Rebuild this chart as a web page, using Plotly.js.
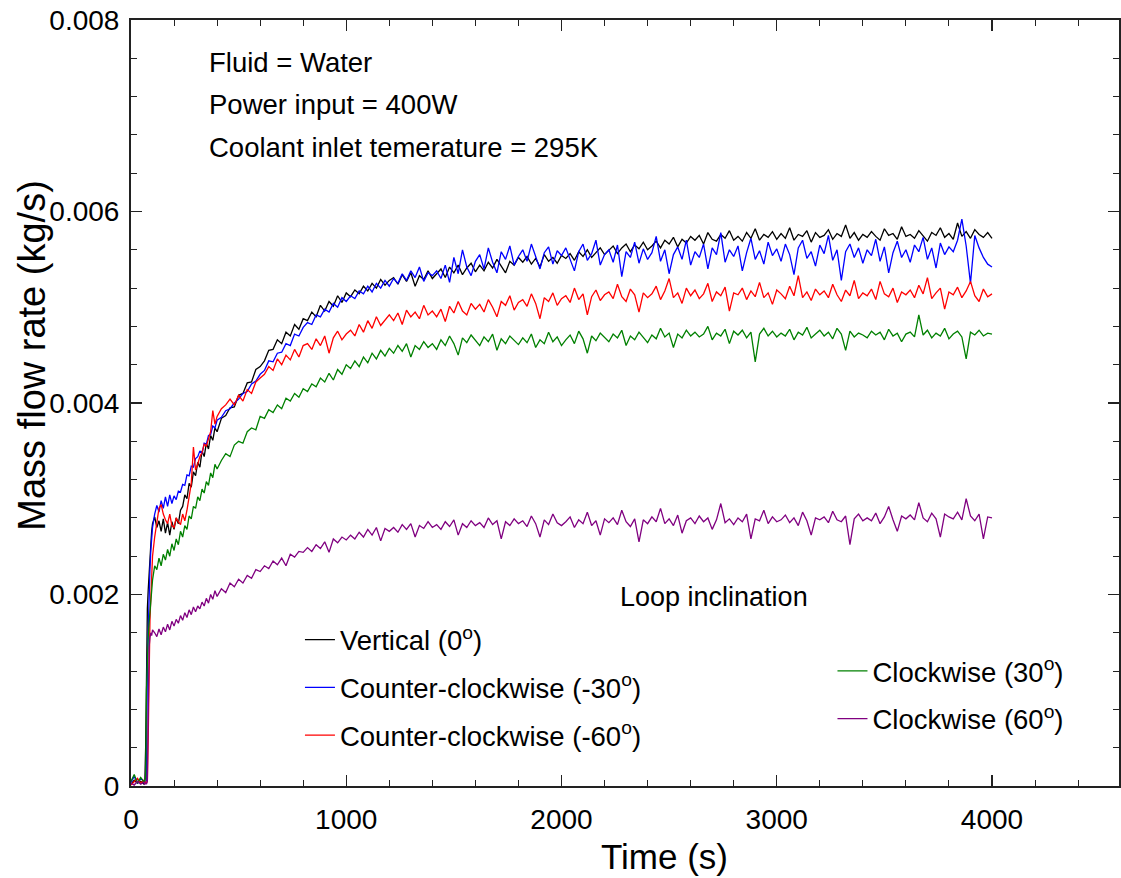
<!DOCTYPE html>
<html>
<head>
<meta charset="utf-8">
<script src="https://cdn.plot.ly/plotly-3.0.1.min.js"></script>
<style>html,body{margin:0;padding:0;background:#fff;}#chart{width:1121px;height:878px;}</style>
</head>
<body>
<div id="chart"></div>
<script>
// Time in seconds
const time = [0,15,30,45,60,64,68,72,76,80,84,88,92,96,100,
110,120,130,140,150,160,170,180,190,200,
210,220,230,240,250,260,270,280,290,300,
310,320,330,340,350,360,370,380,390,400,
420,440,460,480,500,520,540,560,580,600,
620,640,660,680,700,720,740,760,780,800,
820,840,860,880,900,920,940,960,980,1000,
1020,1040,1060,1080,1100,1120,1140,1160,1180,1200,
1220,1240,1260,1280,1300,1320,1340,1360,1380,1400,
1420,1440,1460,1480,1500,1520,1540,1560,1580,1600,
1620,1640,1660,1680,1700,1720,1740,1760,1780,1800,
1820,1840,1860,1880,1900,1920,1940,1960,1980,2000,
2020,2040,2060,2080,2100,2120,2140,2160,2180,2200,
2220,2240,2260,2280,2300,2320,2340,2360,2380,2400,
2420,2440,2460,2480,2500,2520,2540,2560,2580,2600,
2620,2640,2660,2680,2700,2720,2740,2760,2780,2800,
2820,2840,2860,2880,2900,2920,2940,2960,2980,3000,
3020,3040,3060,3080,3100,3120,3140,3160,3180,3200,
3220,3240,3260,3280,3300,3320,3340,3360,3380,3400,
3420,3440,3460,3480,3500,3520,3540,3560,3580,3600,
3620,3640,3660,3680,3700,3720,3740,3760,3780,3800,
3820,3840,3860,3880,3900,3920,3940,3960,3980,4000];

// Mass flow rate values in g/s (converted to kg/s for plotting)
const vertical0 = [0.02,0.06,0.03,0.05,0.02,0.03,0.40,1.45,1.85,2.05,2.25,2.40,2.52,2.66,2.74,
2.81,2.70,2.77,2.66,2.79,2.64,2.75,2.62,2.76,2.68,
2.80,2.74,2.88,2.92,3.04,3.00,3.16,3.12,3.28,3.24,
3.38,3.33,3.50,3.44,3.58,3.52,3.66,3.61,3.74,3.70,
3.84,3.87,3.95,3.96,4.08,4.10,4.21,4.22,4.35,4.38,
4.44,4.55,4.56,4.66,4.62,4.74,4.70,4.82,4.77,4.88,
4.86,4.95,4.90,5.02,4.96,5.06,5.01,5.12,5.05,5.15,
5.11,5.18,5.14,5.22,5.17,5.25,5.20,5.29,5.23,5.28,
5.31,5.24,5.34,5.27,5.36,5.22,5.33,5.29,5.38,5.30,
5.35,5.40,5.31,5.42,5.36,5.44,5.34,5.41,5.46,5.37,
5.44,5.38,5.47,5.41,5.50,5.43,5.36,5.48,5.44,5.52,
5.47,5.53,5.45,5.51,5.42,5.55,5.48,5.52,5.46,5.54,
5.51,5.56,5.49,5.58,5.53,5.60,5.52,5.57,5.62,5.55,
5.59,5.64,5.56,5.62,5.66,5.58,5.65,5.61,5.68,5.60,
5.64,5.69,5.62,5.70,5.66,5.73,5.63,5.71,5.67,5.74,
5.70,5.75,5.66,5.78,5.71,5.69,5.76,5.72,5.80,5.70,
5.74,5.69,5.78,5.72,5.82,5.70,5.76,5.73,5.79,5.71,
5.77,5.72,5.83,5.70,5.76,5.74,5.80,5.68,5.78,5.73,
5.75,5.81,5.71,5.77,5.74,5.86,5.72,5.78,5.70,5.76,
5.73,5.79,5.74,5.70,5.82,5.75,5.77,5.71,5.84,5.74,
5.76,5.72,5.80,5.74,5.69,5.78,5.75,5.83,5.73,5.77,
5.71,5.88,5.74,5.79,5.72,5.81,5.76,5.73,5.78,5.72];

const ccw30 = [0.04,0.10,0.03,0.08,0.05,0.02,0.04,0.06,1.30,1.72,2.02,2.26,2.46,2.60,2.70,
2.84,2.93,2.86,2.98,2.90,3.02,2.92,3.04,2.95,3.03,
2.99,3.08,3.07,3.15,3.14,3.25,3.24,3.34,3.33,3.42,
3.44,3.50,3.47,3.58,3.57,3.66,3.67,3.76,3.74,3.82,
3.85,3.92,3.94,4.00,4.04,4.10,4.12,4.20,4.23,4.30,
4.34,4.44,4.43,4.52,4.53,4.62,4.60,4.72,4.70,4.79,
4.84,4.82,4.92,4.90,4.98,4.95,5.04,5.00,5.10,5.06,
5.12,5.09,5.17,5.14,5.22,5.16,5.25,5.20,5.28,5.22,
5.30,5.25,5.35,5.28,5.38,5.31,5.42,5.27,5.36,5.33,
5.38,5.30,5.44,5.26,5.52,5.35,5.60,5.42,5.33,5.48,
5.55,5.40,5.62,5.47,5.36,5.58,5.50,5.64,5.44,5.53,
5.60,5.48,5.66,5.52,5.40,5.57,5.63,5.45,5.59,5.54,
5.62,5.50,5.38,5.58,5.66,5.49,5.56,5.70,5.44,5.55,
5.60,5.47,5.65,5.32,5.58,5.52,5.68,5.46,5.61,5.50,
5.57,5.74,5.48,5.60,5.35,5.55,5.63,5.50,5.70,5.44,
5.58,5.52,5.66,5.40,5.62,5.55,5.78,5.47,5.60,5.53,
5.64,5.38,5.57,5.72,5.50,5.59,5.45,5.68,5.54,5.61,
5.48,5.66,5.55,5.34,5.62,5.70,5.51,5.58,5.43,5.65,
5.56,5.75,5.49,5.60,5.28,5.58,5.66,5.52,5.62,5.46,
5.60,5.54,5.71,5.48,5.63,5.36,5.57,5.69,5.52,5.60,
5.47,5.65,5.58,5.73,5.50,5.62,5.41,5.67,5.55,5.63,
5.58,5.70,5.92,5.64,5.25,5.75,5.62,5.52,5.45,5.42];

const ccw60 = [0.01,0.04,0.08,0.03,0.06,0.02,0.04,0.03,0.05,0.50,1.45,1.72,1.96,2.20,2.40,
2.60,2.76,2.90,2.94,2.84,2.78,2.74,2.84,2.72,2.70,
2.80,2.76,2.73,2.84,2.77,2.88,3.02,3.16,3.54,3.30,
3.36,3.44,3.48,3.57,3.55,3.64,3.70,3.92,3.78,3.86,
3.94,3.98,4.04,3.98,4.08,4.02,4.14,4.10,4.22,4.26,
4.30,4.38,4.34,4.46,4.40,4.50,4.45,4.56,4.48,4.60,
4.62,4.56,4.67,4.60,4.70,4.52,4.68,4.75,4.66,4.72,
4.76,4.70,4.82,4.74,4.86,4.78,4.90,4.81,4.87,4.92,
4.86,4.94,4.82,4.97,4.90,4.95,4.88,5.02,4.92,4.96,
4.90,4.98,4.85,5.01,4.94,5.06,4.96,4.92,5.04,4.98,
5.03,4.95,5.08,5.00,4.90,5.06,5.02,5.12,4.97,5.05,
5.08,5.01,5.14,5.04,4.88,5.10,5.06,5.15,5.02,5.09,
5.12,5.05,5.20,5.08,5.14,4.92,5.11,5.18,5.07,5.13,
5.16,5.09,5.24,5.11,5.06,5.19,5.13,4.95,5.15,5.10,
5.14,5.22,5.08,5.17,5.30,5.10,5.15,5.04,5.20,5.12,
5.18,5.09,5.14,5.25,5.06,5.16,5.12,5.21,4.96,5.15,
5.13,5.20,5.08,5.17,5.11,5.26,5.10,5.15,5.03,5.18,
5.14,5.09,5.22,5.12,5.33,5.10,5.16,5.07,5.19,5.13,
5.17,5.10,5.24,5.13,5.06,5.18,5.12,5.28,5.09,5.15,
5.12,5.19,5.08,5.27,5.14,5.11,5.20,5.05,5.16,5.13,
5.18,5.10,5.23,5.14,5.31,5.09,5.15,5.20,4.98,5.16,
5.13,5.21,5.10,5.17,5.27,5.12,5.06,5.19,5.11,5.14];

const cw30 = [0.05,0.12,0.03,0.09,0.04,0.06,0.08,1.00,1.40,1.56,1.70,1.84,1.95,2.06,2.15,
2.30,2.26,2.38,2.30,2.42,2.36,2.47,2.40,2.53,2.46,
2.58,2.52,2.66,2.60,2.72,2.68,2.82,2.79,2.92,2.90,
3.02,2.98,3.10,3.06,3.18,3.14,3.27,3.22,3.36,3.31,
3.40,3.47,3.44,3.56,3.60,3.58,3.70,3.74,3.72,3.86,
3.84,3.93,3.90,3.98,3.94,4.05,4.02,4.10,4.06,4.15,
4.12,4.20,4.17,4.26,4.22,4.31,4.24,4.35,4.30,4.40,
4.36,4.44,4.38,4.48,4.42,4.52,4.46,4.55,4.49,4.57,
4.52,4.60,4.54,4.62,4.48,4.60,4.56,4.64,4.58,4.62,
4.56,4.66,4.60,4.70,4.62,4.50,4.68,4.63,4.71,4.65,
4.60,4.69,4.64,4.72,4.55,4.67,4.62,4.70,4.66,4.61,
4.68,4.63,4.72,4.58,4.66,4.62,4.74,4.64,4.69,4.60,
4.66,4.71,4.62,4.75,4.67,4.52,4.70,4.65,4.73,4.68,
4.64,4.72,4.68,4.76,4.60,4.70,4.66,4.74,4.69,4.63,
4.71,4.67,4.78,4.69,4.73,4.58,4.72,4.68,4.76,4.70,
4.74,4.69,4.72,4.80,4.66,4.73,4.70,4.77,4.62,4.75,
4.71,4.76,4.68,4.74,4.43,4.72,4.78,4.70,4.75,4.69,
4.73,4.70,4.77,4.66,4.74,4.71,4.79,4.68,4.72,4.76,
4.70,4.74,4.67,4.78,4.72,4.55,4.75,4.69,4.73,4.71,
4.68,4.75,4.71,4.74,4.66,4.77,4.70,4.73,4.64,4.72,
4.74,4.69,4.92,4.71,4.76,4.68,4.73,4.70,4.78,4.67,
4.72,4.75,4.69,4.46,4.74,4.71,4.76,4.70,4.73,4.72];

const cw60 = [0.03,0.01,0.05,0.02,0.04,0.02,0.03,0.02,0.05,0.90,1.45,1.55,1.60,1.57,1.63,
1.60,1.56,1.64,1.58,1.66,1.61,1.69,1.63,1.72,1.67,
1.74,1.70,1.78,1.73,1.81,1.76,1.84,1.79,1.87,1.82,
1.88,1.85,1.92,1.88,1.96,1.91,2.00,1.95,2.04,1.98,
2.06,2.02,2.12,2.08,2.16,2.12,2.20,2.17,2.26,2.24,
2.30,2.27,2.35,2.31,2.38,2.30,2.42,2.39,2.45,2.44,
2.49,2.45,2.52,2.48,2.55,2.44,2.58,2.54,2.60,2.57,
2.62,2.58,2.65,2.60,2.68,2.62,2.70,2.56,2.69,2.66,
2.70,2.65,2.73,2.68,2.74,2.60,2.72,2.69,2.76,2.70,
2.73,2.68,2.76,2.71,2.78,2.62,2.74,2.70,2.77,2.72,
2.75,2.70,2.80,2.73,2.77,2.58,2.76,2.72,2.79,2.74,
2.77,2.71,2.82,2.74,2.60,2.78,2.73,2.84,2.75,2.72,
2.76,2.81,2.70,2.78,2.74,2.86,2.72,2.77,2.62,2.79,
2.75,2.80,2.73,2.88,2.76,2.71,2.79,2.55,2.78,2.74,
2.81,2.76,2.90,2.74,2.79,2.72,2.83,2.64,2.77,2.80,
2.74,2.82,2.76,2.80,2.68,2.78,2.95,2.75,2.79,2.73,
2.80,2.76,2.84,2.58,2.79,2.77,2.88,2.74,2.81,2.76,
2.78,2.83,2.75,2.80,2.72,2.86,2.77,2.62,2.80,2.78,
2.81,2.75,2.87,2.78,2.76,2.82,2.52,2.79,2.84,2.77,
2.80,2.77,2.85,2.74,2.81,2.92,2.78,2.66,2.82,2.79,
2.83,2.78,2.96,2.80,2.76,2.85,2.79,2.60,2.84,2.81,
2.79,2.86,2.78,3.00,2.82,2.77,2.84,2.58,2.81,2.80];

const seriesNames = ['Vertical (0<sup>o</sup>)', 'Counter-clockwise (-30<sup>o</sup>)', 'Counter-clockwise (-60<sup>o</sup>)', 'Clockwise (30<sup>o</sup>)', 'Clockwise (60<sup>o</sup>)'];
const seriesValues = [vertical0, ccw30, ccw60, cw30, cw60];
const seriesColors = ['#000000', '#0000ff', '#ff0000', '#008000', '#800080'];
const seriesLegend = ['legend', 'legend', 'legend', 'legend2', 'legend2'];

const yTickVals = [0, 0.002, 0.004, 0.006, 0.008];
const yTickText = ['0', '0.002', '0.004', '0.006', '0.008'];
const xTickVals = [0, 1000, 2000, 3000, 4000];

const FONT = 'Arial, "Liberation Sans", sans-serif';

const traces = seriesValues.map((vals, i) => ({
  x: time,
  y: vals.map(v => v / 1000),
  type: 'scatter',
  mode: 'lines',
  name: seriesNames[i],
  legend: seriesLegend[i],
  legendgroup: 'g' + i,
  line: {color: seriesColors[i], width: 1.3}
}));

const axisCommon = {
  showgrid: false, zeroline: false,
  showline: true, linecolor: '#222', linewidth: 2, mirror: 'ticks',
  ticks: 'inside', ticklen: 11, tickwidth: 1.3, tickcolor: '#222',
  tickfont: {family: FONT, size: 28, color: '#000'},
  minor: {ticks: 'inside', ticklen: 6, tickwidth: 1, tickcolor: '#222'}
};

const layout = {
  width: 1121, height: 878,
  margin: {l: 131, r: 2, t: 20, b: 92},
  paper_bgcolor: '#fff', plot_bgcolor: '#fff',
  font: {family: FONT, color: '#000'},
  xaxis: Object.assign({}, axisCommon, {
    range: [0, 4590], tickvals: xTickVals, ticklabelstandoff: 7,
    minor: Object.assign({}, axisCommon.minor, {dtick: 200, tick0: 0})
  }),
  yaxis: Object.assign({}, axisCommon, {
    range: [0, 0.008], tickvals: yTickVals, ticktext: yTickText, ticklabelstandoff: 4,
    minor: Object.assign({}, axisCommon.minor, {dtick: 0.0004, tick0: 0})
  }),
  showlegend: true,
  legend: {x: 0.171, y: 0.223, xanchor: 'left', yanchor: 'top', bgcolor: 'rgba(0,0,0,0)',
    font: {family: FONT, size: 27.5, color: '#000'}, tracegroupgap: 9, traceorder: 'grouped'},
  legend2: {x: 0.71, y: 0.182, xanchor: 'left', yanchor: 'top', bgcolor: 'rgba(0,0,0,0)',
    font: {family: FONT, size: 27.5, color: '#000'}, tracegroupgap: 9, traceorder: 'grouped'},
  annotations: [
    {text: 'Time (s)', xref: 'paper', yref: 'paper', x: 0.5395, y: -0.0914, xanchor: 'center', yanchor: 'middle', showarrow: false, font: {family: FONT, size: 35, color: '#000'}},
    {text: 'Mass flow rate (kg/s)', xref: 'paper', yref: 'paper', x: -0.101, y: 0.562, xanchor: 'center', yanchor: 'middle', textangle: -90, showarrow: false, font: {family: FONT, size: 38, color: '#000'}},
    {text: 'Fluid = Water', xref: 'paper', yref: 'paper', x: 0.0769, y: 0.945, xanchor: 'left', yanchor: 'middle', showarrow: false, font: {family: FONT, size: 27.5, color: '#000'}},
    {text: 'Power input = 400W', xref: 'paper', yref: 'paper', x: 0.0769, y: 0.890, xanchor: 'left', yanchor: 'middle', showarrow: false, font: {family: FONT, size: 27.5, color: '#000'}},
    {text: 'Coolant inlet temerature = 295K', xref: 'paper', yref: 'paper', x: 0.0769, y: 0.834, xanchor: 'left', yanchor: 'middle', showarrow: false, font: {family: FONT, size: 27.5, color: '#000'}},
    {text: 'Loop inclination', xref: 'paper', yref: 'paper', x: 0.59, y: 0.2467, xanchor: 'center', yanchor: 'middle', showarrow: false, font: {family: FONT, size: 27, color: '#000'}}
  ]
};

Plotly.newPlot('chart', traces, layout, {displayModeBar: false, staticPlot: true});
</script>
</body>
</html>
